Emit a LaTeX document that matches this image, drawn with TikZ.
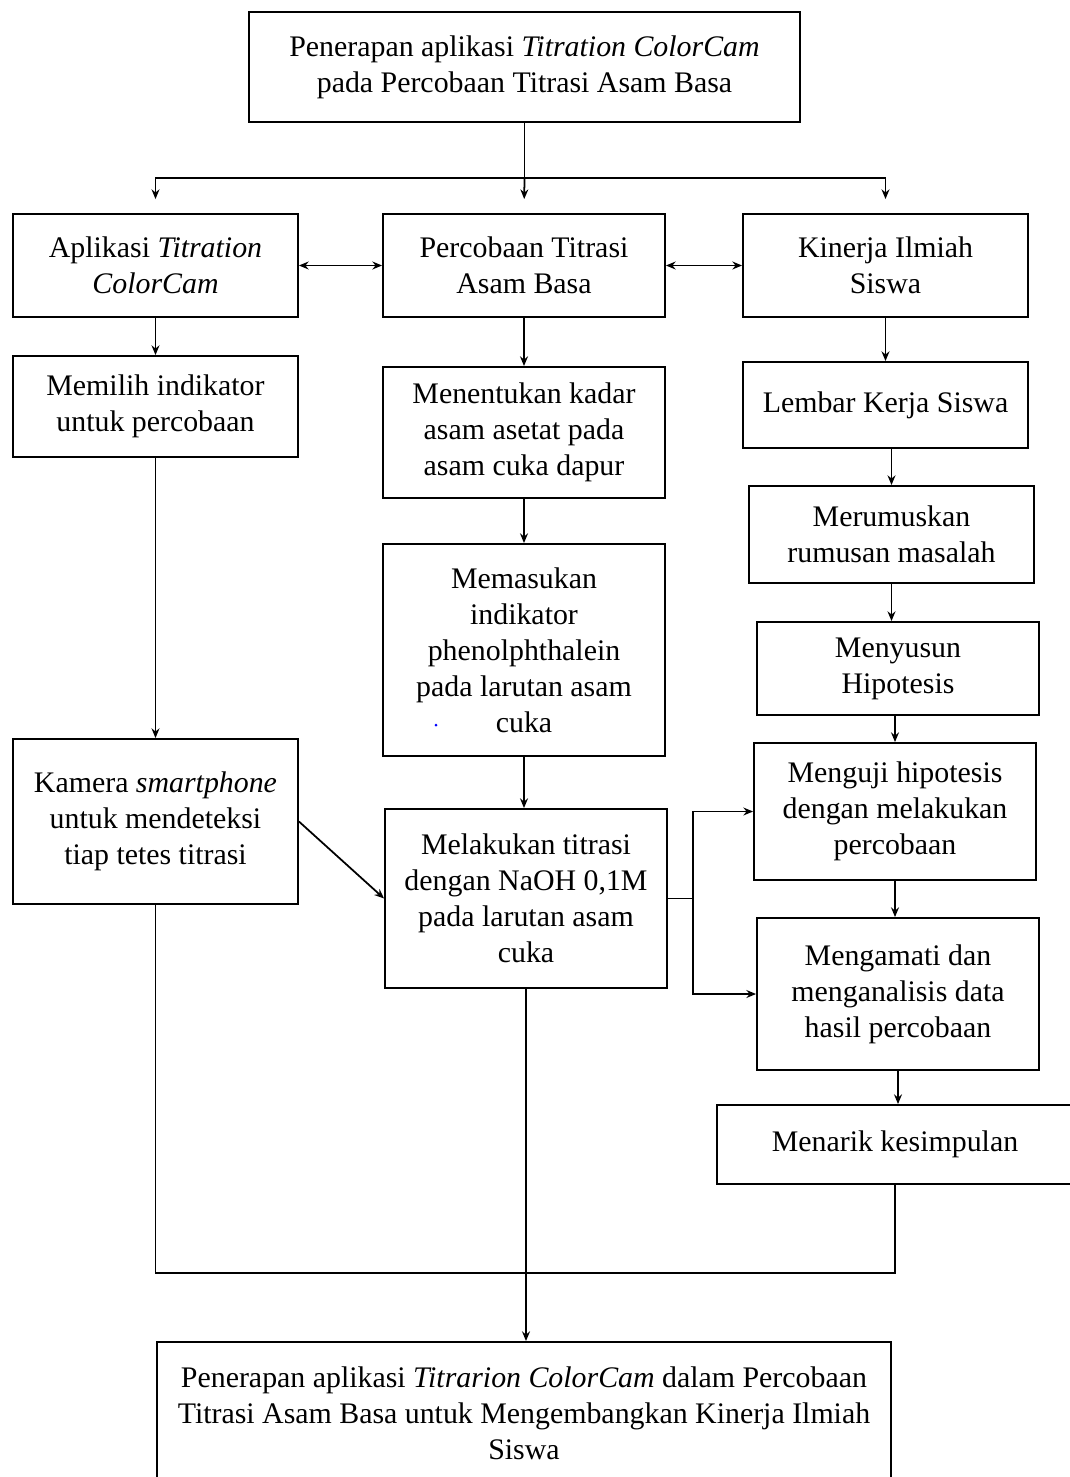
\documentclass[tikz,border=0pt]{standalone}
\usepackage{fontspec}
\setmainfont{Liberation Serif}
\usetikzlibrary{arrows.meta}
\begin{document}
\begin{tikzpicture}[x=0.02cm,y=-0.02cm,>={Stealth[length=5.5pt,width=4.5pt]},
        kotak/.style={draw,line width=1.1pt,align=center,inner sep=2pt,font={\fontsize{17}{20.5}\selectfont}},
        panah/.style={->,line width=1pt}]
        \useasboundingbox (0,0) rectangle (1069,1477);
        % baris atas
        \node[kotak,minimum width=11.02cm,minimum height=2.2cm](judul) at (524.5,67){Penerapan aplikasi \textit{Titration ColorCam}\\pada Percobaan Titrasi Asam Basa};
        \node[kotak,minimum width=5.7cm,minimum height=2.06cm](apl) at (155.5,265.5){Aplikasi \textit{Titration}\\\textit{ColorCam}};
        \node[kotak,minimum width=5.64cm,minimum height=2.06cm](titr) at (524,265.5){Percobaan Titrasi\\Asam Basa};
        \node[kotak,minimum width=5.7cm,minimum height=2.06cm](kin) at (885.5,265.5){Kinerja Ilmiah\\Siswa};
        \coordinate (cabang) at (524.5,178);
        \draw[line width=1pt](judul.south)--(cabang);
        \draw[panah,shorten >=0.28cm](cabang)--(titr.north);
        \draw[panah,shorten >=0.28cm](cabang)-|(apl.north);
        \draw[panah,shorten >=0.28cm](cabang)-|(kin.north);
        \draw[<->,line width=1pt](apl.east)--(titr.west);
        \draw[<->,line width=1pt](titr.east)--(kin.west);
        % kolom kiri
        \node[kotak,minimum width=5.7cm,minimum height=2.02cm](pilih) at (155.5,406.5){Memilih indikator\\untuk percobaan};
        \node[kotak,minimum width=5.7cm,minimum height=3.3cm](kamera) at (155.5,821.5){Kamera \textit{smartphone}\\untuk mendeteksi\\tiap tetes titrasi};
        \draw[panah](apl.south)--(pilih.north);
        \draw[panah](pilih.south)--(kamera.north);
        % kolom tengah
        \node[kotak,minimum width=5.64cm,minimum height=2.62cm](kadar) at (524,432.5){Menentukan kadar\\asam asetat pada\\asam cuka dapur};
        \node[kotak,minimum width=5.64cm,minimum height=4.24cm](masuk) at (524,650){Memasukan\\indikator\\phenolphthalein\\pada larutan asam\\cuka};
        \fill[blue](436,725)circle(0.03cm);
        \node[kotak,minimum width=5.64cm,minimum height=3.58cm](lakukan) at (526,898.5){Melakukan titrasi\\dengan NaOH 0,1M\\pada larutan asam\\cuka};
        \draw[panah](titr.south)--(kadar.north);
        \draw[panah](kadar.south)--(kadar.south|-masuk.north);
        \draw[panah](masuk.south)--(masuk.south|-lakukan.north);
        \draw[panah](kamera.east)--(lakukan.west);
        % kolom kanan
        \node[kotak,minimum width=5.7cm,minimum height=1.72cm](lks) at (885.5,405){Lembar Kerja Siswa};
        \node[kotak,minimum width=5.7cm,minimum height=1.94cm](rumus) at (891.5,534.5){Merumuskan\\rumusan masalah};
        \node[kotak,minimum width=5.64cm,minimum height=1.86cm](hipo) at (898,668.5){Menyusun\\Hipotesis};
        \node[kotak,minimum width=5.64cm,minimum height=2.74cm](uji) at (895,811.5){Menguji hipotesis\\dengan melakukan\\percobaan};
        \node[kotak,minimum width=5.64cm,minimum height=3.04cm](amati) at (898,994){Mengamati dan\\menganalisis data\\hasil percobaan};
        \node[kotak,minimum width=7.12cm,minimum height=1.58cm](simpul) at (895,1144.5){Menarik kesimpulan};
        \draw[panah](kin.south)--(lks.north);
        \draw[panah](rumus.north|-lks.south)--(rumus.north);
        \draw[panah](rumus.south)--(rumus.south|-hipo.north);
        \draw[panah](uji.north|-hipo.south)--(uji.north);
        \draw[panah](uji.south)--(uji.south|-amati.north);
        \draw[panah](amati.south)--(amati.south|-simpul.north);
        \coordinate (pisah) at (693,898.5);
        \draw[line width=1pt](lakukan.east)--(pisah);
        \draw[panah](pisah)|-(uji.west);
        \draw[panah](pisah)|-(amati.west);
        % hasil akhir
        \node[kotak,minimum width=14.68cm,minimum height=2.84cm](hasil) at (524,1413){Penerapan aplikasi \textit{Titrarion ColorCam} dalam Percobaan\\Titrasi Asam Basa untuk Mengembangkan Kinerja Ilmiah\\Siswa};
        \coordinate (balik) at (524,1273);
        \draw[line width=1pt](kamera.south)|-(balik)-|(simpul.south);
        \draw[panah](lakukan.south)--(lakukan.south|-hasil.north);
\end{tikzpicture}
\end{document}
